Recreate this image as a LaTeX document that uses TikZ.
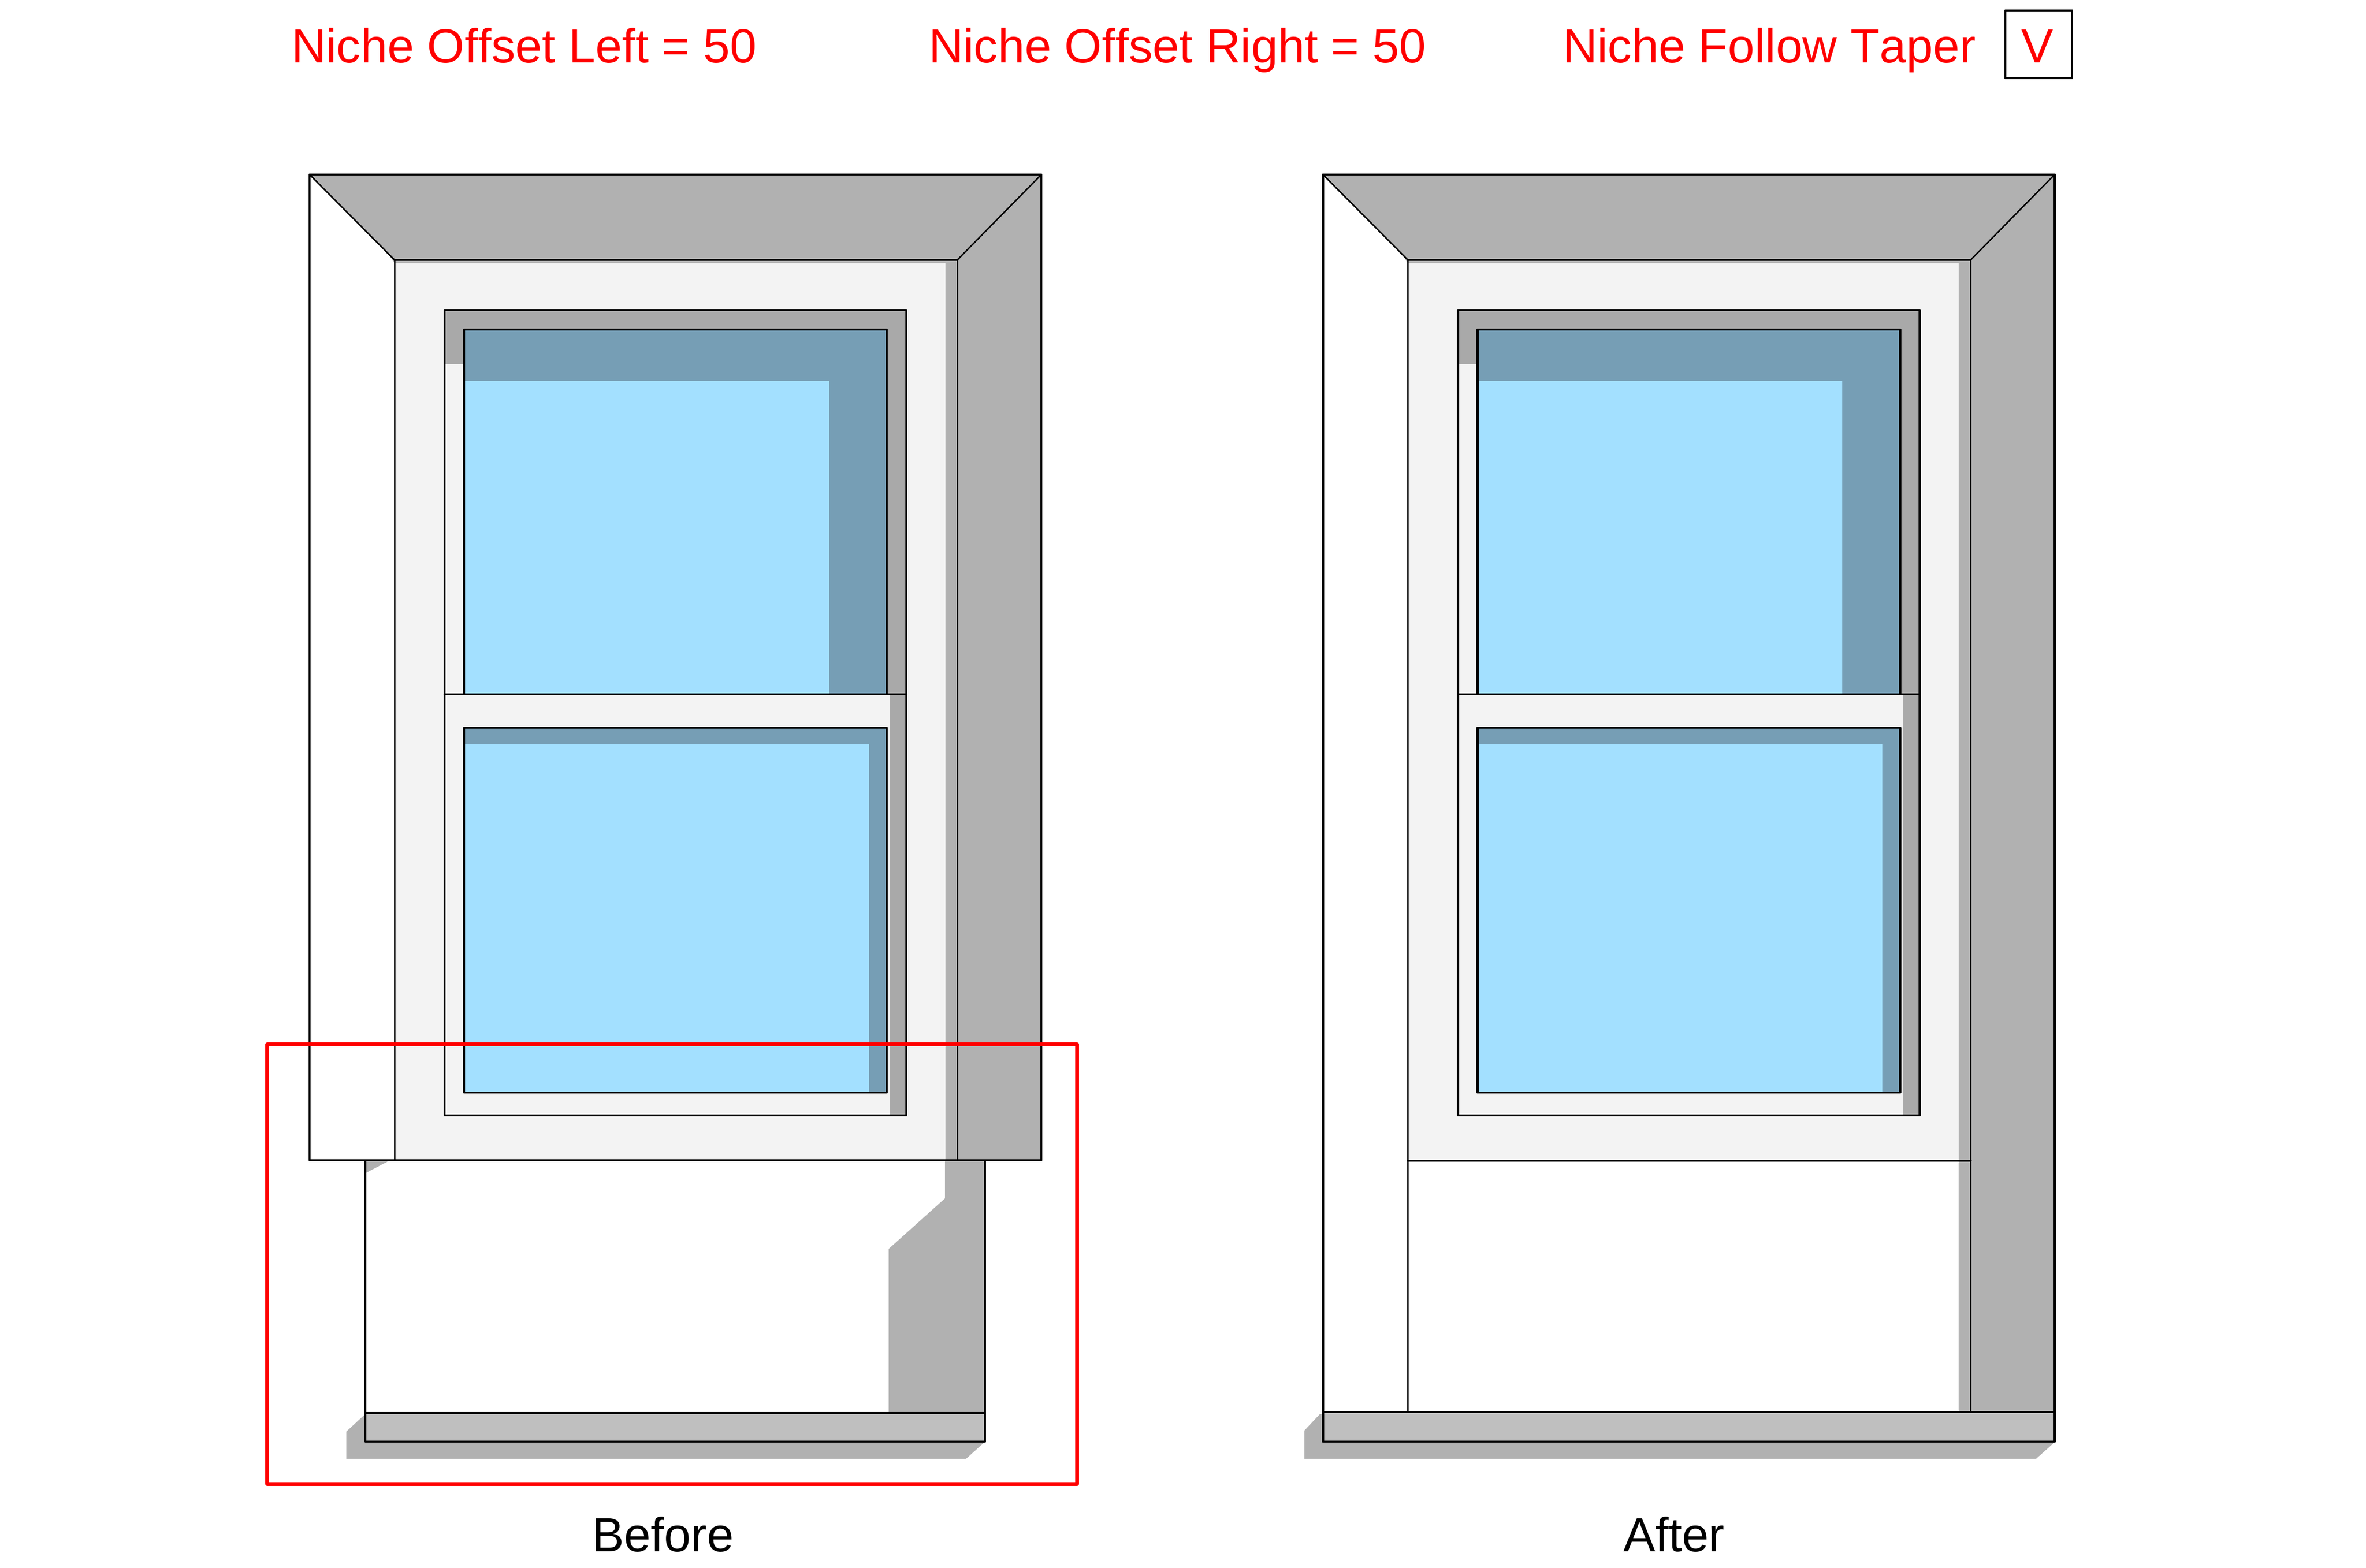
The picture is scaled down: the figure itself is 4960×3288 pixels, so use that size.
\documentclass[tikz,border=0pt]{standalone}
\usepackage{fontspec}
\setmainfont[Kerning=Off]{Liberation Sans}
\definecolor{shadegray}{HTML}{B1B1B1}
\definecolor{framegray}{HTML}{A9A9A9}
\definecolor{sillgray}{HTML}{BFBFBF}
\definecolor{nichegray}{HTML}{F3F3F3}
\definecolor{glassblue}{HTML}{A3E0FF}
\definecolor{glassshade}{HTML}{769EB5}
\tikzset{
  edge/.style = {draw=black, line width=4.5pt*.2835, line cap=round, line join=round},
  thinedge/.style = {draw=black, line width=3pt*.2835},
  lbl/.style = {font=\fontsize{28.6}{34}\selectfont, anchor=base, inner sep=0pt, outer sep=0pt},
  redlbl/.style = {lbl, text=red, anchor=base west}
}
% the part that both windows share: trim head, niche, sash and glass
\newcommand{\windowparts}{
  \fill[shadegray] (649,366) -- (2183,366) -- (2007,545) -- (827,545) -- cycle;
  \fill[nichegray] (827,545) rectangle (2007,2434);
  \fill[shadegray] (815,533) -- (2007,545) -- (2007,2434) -- (1982,2434) -- (1982,552) -- (827,552) -- cycle;
  % sash frame
  \fill[framegray] (932,650) rectangle (1900,764);
  \fill[nichegray] (932,764) rectangle (1900,2339);
  \fill[framegray] (1859,650) rectangle (1900,1456);
  \fill[framegray] (1866,1456) rectangle (1900,2339);
  % glass upper and lower
  \fill[glassshade] (973,691) rectangle (1859,1456);
  \fill[glassblue] (973,799) rectangle (1738,1456);
  \fill[glassshade] (973,1526) rectangle (1859,2291);
  \fill[glassblue] (973,1561) rectangle (1822,2291);
  \draw[edge] (932,650) rectangle (1900,2339);
  \draw[edge] (932,1456) -- (1900,1456);
  \draw[edge] (973,691) rectangle (1859,1456);
  \draw[edge] (973,1526) rectangle (1859,2291);
  \draw[thinedge] (649,366) -- (827,545);
  \draw[thinedge] (2183,366) -- (2007,545);
  \draw[edge] (827,545) -- (2007,545);
}
\begin{document}
\begin{tikzpicture}[x=.01cm, y=-.01cm]
\useasboundingbox[fill=white] (0,0) rectangle (4960,3288);
% labels on top
\node[redlbl] (offsetleft) at (611,132) {Niche Offset Left = 50};
\node[redlbl] (offsetright) at (1947,132) {Niche Offset Right = 50};
\node[redlbl] (followtaper) at (3276,132) {Niche Follow Taper};
\draw[edge] (4204,22) rectangle (4344,164);
\node[lbl, text=red] (flag) at (4271,132) {V};

% before
\fill[shadegray] (766,2965) -- (726,3002) -- (726,3059) -- (2025,3059) -- (2065,3023) -- cycle;
\fill[shadegray] (1981,2434) -- (2065,2434) -- (2065,2963) -- (1863,2963) -- (1863,2619) -- (1981,2513) -- cycle;
\fill[shadegray] (766,2434) -- (816,2434) -- (766,2460) -- cycle;
\fill[shadegray] (2007,366) -- (2183,366) -- (2183,2433) -- (2007,2433) -- cycle;
\windowparts
\draw[edge] (766,2434) -- (766,2963);
\draw[edge] (2065,2434) -- (2065,2963);
\fill[sillgray] (766,2963) rectangle (2065,3023);
\draw[edge] (766,2963) rectangle (2065,3023);
\draw[edge] (649,366) rectangle (2183,2433);
\draw[thinedge] (827,545) -- (827,2433);
\draw[thinedge] (2007,545) -- (2007,2433);
\draw[red, line width=8pt*.2835, line join=round] (560,2190) rectangle (2258,3112);
\node[lbl] (before) at (1390,3253) {Before};

% after
\begin{scope}[xshift=21.23cm]
\fill[shadegray] (643,2965) -- (610,3000) -- (610,3059) -- (2144,3059) -- (2182,3025) -- cycle;
\fill[shadegray] (2007,366) -- (2183,366) -- (2183,2961) -- (2007,2961) -- cycle;
\windowparts
\fill[shadegray] (1982,2434) rectangle (2007,2961);
\draw[edge] (649,2961) -- (649,366) -- (2183,366) -- (2183,2961);
\draw[edge] (827,2434) -- (2007,2434);
\draw[thinedge] (827,545) -- (827,2961);
\draw[thinedge] (2007,545) -- (2007,2961);
\fill[sillgray] (649,2961) rectangle (2183,3023);
\draw[edge] (649,2961) rectangle (2183,3023);
\node[lbl] (after) at (1385,3253) {After};
\end{scope}
\end{tikzpicture}
\end{document}
